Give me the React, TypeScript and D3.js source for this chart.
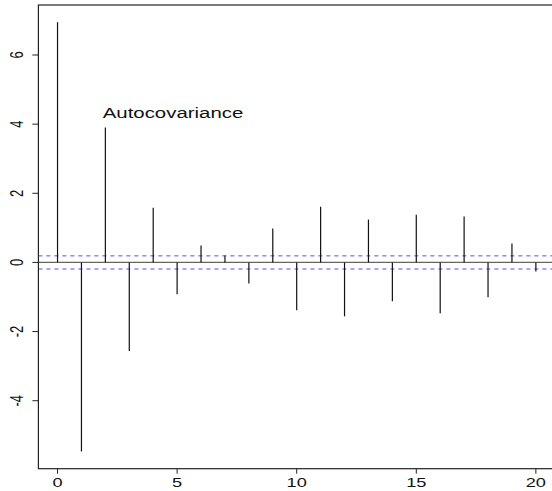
import React from "react";
import * as d3 from "d3";

const lags = d3.range(0, 21);
const acvf = [
  6.95, -5.47, 3.9, -2.56, 1.58, -0.92, 0.49, 0.2, -0.61, 0.98, -1.38,
  1.61, -1.56, 1.24, -1.12, 1.38, -1.47, 1.33, -1.01, 0.55, -0.26,
];
const ciBound = 0.19;
const xTicks = [0, 5, 10, 15, 20];
const yTicks = [-4, -2, 0, 2, 4, 6];
const label = "Autocovariance";
const labelPos = { lag: 1.89, value: 4.18 };

const W = 552;
const H = 491;
const plot = { left: 38.4, top: 5, right: 555, bottom: 468.7 };
const font = "Liberation Sans, Arial, Helvetica, sans-serif";

export default function App() {
  // R-style 4% axis expansion
  const [x0, x1] = d3.extent(lags) as [number, number];
  const xPad = (x1 - x0) * 0.04;
  const x = d3
    .scaleLinear()
    .domain([x0 - xPad, x1 + xPad])
    .range([plot.left, plot.right]);

  const [y0, y1] = d3.extent(acvf) as [number, number];
  const yPad = (y1 - y0) * 0.04;
  const y = d3
    .scaleLinear()
    .domain([y0 - yPad, y1 + yPad])
    .range([plot.bottom, plot.top]);

  const tick = 5;
  const sx = 1.4;

  return (
    <svg
      width={W}
      height={H}
      style={{ position: "absolute", left: 0, top: 0, background: "#fff" }}
      fontFamily={font}
    >
      {/* confidence bounds */}
      {[ciBound, -ciBound].map((b) => (
        <line
          key={b}
          x1={plot.left}
          x2={plot.right}
          y1={y(b)}
          y2={y(b)}
          stroke="#4a4aff"
          strokeWidth={1}
          strokeDasharray="4,4"
        />
      ))}

      {/* zero line */}
      <line
        x1={plot.left}
        x2={plot.right}
        y1={y(0)}
        y2={y(0)}
        stroke="#666"
        strokeWidth={1.2}
      />

      {/* spikes */}
      {lags.map((l, i) => (
        <line
          key={l}
          x1={x(l)}
          x2={x(l)}
          y1={y(0)}
          y2={y(acvf[i])}
          stroke="#111"
          strokeWidth={1.2}
        />
      ))}

      {/* box */}
      <rect
        x={plot.left}
        y={plot.top}
        width={plot.right - plot.left}
        height={plot.bottom - plot.top}
        fill="none"
        stroke="#222"
        strokeWidth={1.2}
      />

      {/* x axis */}
      {xTicks.map((t) => (
        <g key={t}>
          <line x1={x(t)} x2={x(t)} y1={plot.bottom} y2={plot.bottom + tick} stroke="#222" />
          <text
            transform={`translate(${x(t)},${487}) scale(${sx},1)`}
            textAnchor="middle"
            fontSize={13}
            fill="#111"
          >
            {t}
          </text>
        </g>
      ))}

      {/* y axis */}
      {yTicks.map((t) => (
        <g key={t}>
          <line x1={plot.left - tick - 1} x2={plot.left} y1={y(t)} y2={y(t)} stroke="#222" />
          <text
            transform={`translate(${23},${y(t)}) scale(${sx},1) rotate(-90)`}
            textAnchor="middle"
            fontSize={13}
            fill="#111"
          >
            {t}
          </text>
        </g>
      ))}

      <text
        transform={`translate(${x(labelPos.lag)},${y(labelPos.value)}) scale(1.36,1)`}
        fontSize={15}
        fill="#111"
      >
        {label}
      </text>
    </svg>
  );
}
